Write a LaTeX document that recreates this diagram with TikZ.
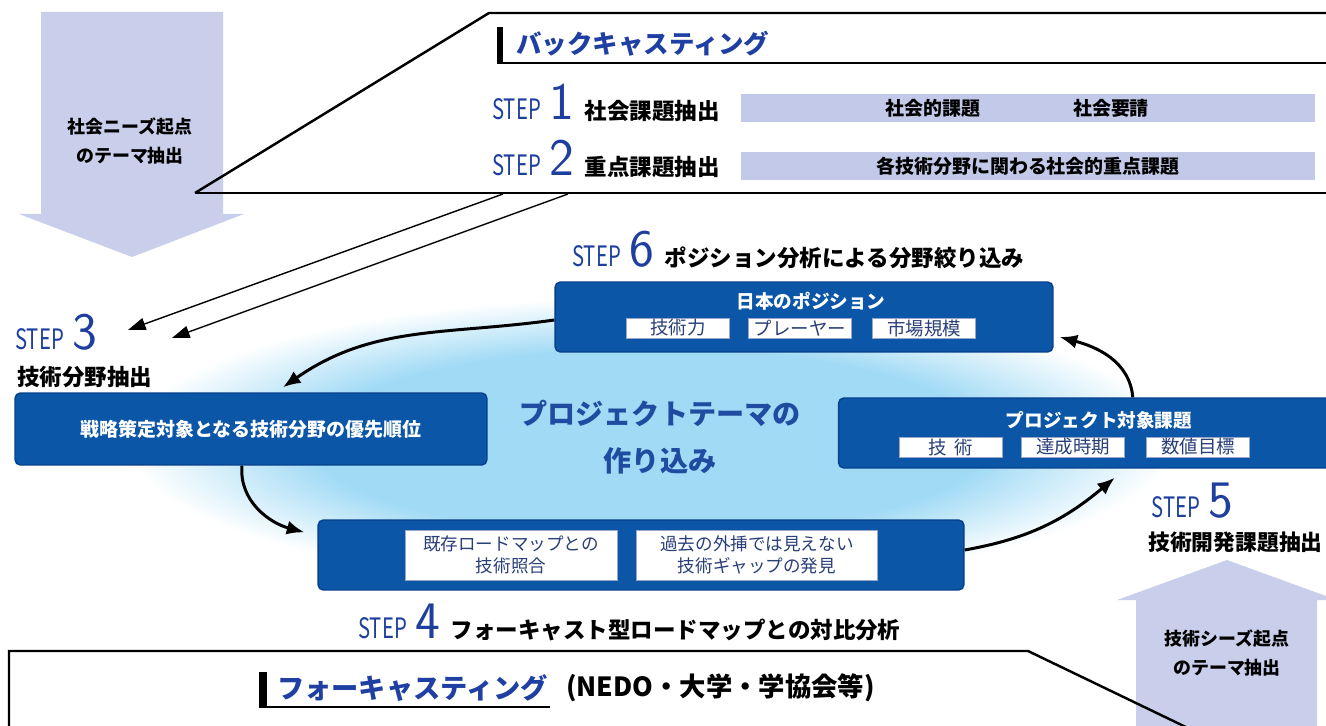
\documentclass[tikz,border=0pt]{standalone}
\usepackage{fontspec}
\setmainfont{Noto Sans CJK JP}
\usetikzlibrary{arrows.meta}
\definecolor{boxblue}{HTML}{0B56A6}
\definecolor{boxedge}{HTML}{063F8C}
\definecolor{stepblue}{HTML}{1E3F9E}
\definecolor{titleblue}{HTML}{1F40A2}
\definecolor{themeblue}{HTML}{1F4BA0}
\definecolor{tagtext}{HTML}{2A3F78}
\definecolor{tagedge}{HTML}{9AA6C8}
\definecolor{arrowlilac}{HTML}{C9CEEA}
\definecolor{barlilac}{HTML}{C3C9E8}
\definecolor{glowblue}{HTML}{A0DAF5}
\pgfdeclareradialshading{glow}{\pgfpoint{0bp}{0bp}}{color(0bp)=(glowblue); color(16bp)=(glowblue); color(25bp)=(white); color(50bp)=(white)}
\newcommand\stepmark[1]{{\mdseries\color{stepblue}\scalebox{.72}[1]{\fontsize{16}{16}\selectfont STEP}\hspace{5pt}{\sffamily\fontsize{30}{30}\selectfont #1}}\hspace{6pt}}
\tikzset{
  >=latex,
  {blue box/.style} ={draw=boxedge, fill=boxblue, line width=.8pt, rounded corners=3pt,
                      inner sep=0, text=white, font=\bfseries\fontsize{10.8}{12}\selectfont},
  {box title/.style} ={inner sep=0, text=white, font=\bfseries\fontsize{10.6}{12}\selectfont},
  {white tag/.style} ={draw=tagedge, fill=white, line width=.5pt, inner sep=0,
                      minimum width=2.06cm, minimum height=.4cm, text=tagtext,
                      font=\fontsize{10.5}{12}\selectfont},
  {road tag/.style} ={white tag, minimum height=1cm, align=center,
                      font=\fontsize{10}{12.5}\selectfont},
  {lilac bar/.style} ={fill=barlilac, inner sep=0, minimum height=.58cm, minimum width=11.48cm},
  {bar text/.style} ={inner sep=0, font=\bfseries\fontsize{10.8}{12}\selectfont},
  {step label/.style} ={anchor=base west, inner sep=0, font=\bfseries\fontsize{12.8}{14}\selectfont},
  {step sub/.style} ={anchor=west, inner sep=0, font=\bfseries\fontsize{12.8}{14}\selectfont},
  {flow arrow/.style} ={-{Latex[length=10pt,width=8pt]}, line width=1.7pt},
  {feed arrow/.style} ={-{Triangle[length=10pt,width=7pt]}, line width=.8pt},
  {frame line/.style} ={line width=1.4pt, line join=miter},
  {theme arrow/.style} ={fill=arrowlilac},
  {theme text/.style} ={align=center, inner sep=0, font=\bfseries\fontsize{10.2}{16}\selectfont},
}

\begin{document}
\begin{tikzpicture}[x=0.02cm,y=-0.02cm]
\useasboundingbox (0,0) rectangle (1326,726);
% glow behind the cycle
\shade[shading=glow] (650,442) ellipse [x radius=10.5cm, y radius=2.9cm];

% big theme arrows
\fill[theme arrow] (41,12) -- (223,12) -- (223,214) -- (244,214) -- (132,257)
      -- (19,214) -- (41,214) -- cycle;
\node[theme text] (needs) at (130,141) {社会ニーズ起点\\のテーマ抽出};
\fill[theme arrow] (1136,740) -- (1136,600) -- (1117,600) -- (1227,560)
      -- (1337,600) -- (1317,600) -- (1317,740) -- cycle;
\node[theme text] (seeds) at (1227,653) {技術シーズ起点\\のテーマ抽出};

% backcasting frame
\draw[frame line] (195,193) -- (489,13) -- (1340,13);
\draw[frame line] (195,193) -- (1340,193);
\fill (497,27) rectangle (503,64);
\draw[line width=1.2pt] (497,63) -- (1340,63);
\node[anchor=west, text=titleblue, font=\bfseries\fontsize{14.5}{16}\selectfont]
      (back title) at (510,44) {バックキャスティング};

\node[lilac bar] (bar1) at (1028,108) {};
\node[bar text] (need a) at (933,108) {社会的課題};
\node[bar text] (need b) at (1111,108) {社会要請};
\node[lilac bar, bar text] (bar2) at (1028,166) {各技術分野に関わる社会的重点課題};

% step labels
\node[step label] (s1) at (492,120) {\stepmark{1}社会課題抽出};
\node[step label] (s2) at (492,176) {\stepmark{2}重点課題抽出};
\node[step label] (s6) at (572,267) {\stepmark{6}ポジション分析による分野絞り込み};
\node[step label] (s3) at (15,350) {\stepmark{3}};
\node[step sub] (s3 text) at (17,377) {技術分野抽出};
\node[step label] (s4) at (358,638) {\stepmark{4}フォーキャスト型ロードマップとの対比分析};
\node[step label] (s5) at (1151,517) {\stepmark{5}};
\node[step sub, font=\bfseries\fontsize{12.4}{14}\selectfont] (s5 text) at (1148,542) {技術開発課題抽出};

\coordinate (back a) at (503,194);
\coordinate (back b) at (568,194);
\coordinate (s3 in a) at (128,330);
\coordinate (s3 in b) at (172,338);
\draw[feed arrow] (back a) -- (s3 in a);
\draw[feed arrow] (back b) -- (s3 in b);

% the four boxes
\node[blue box, minimum width=9.96cm, minimum height=1.4cm] (pos6) at (804,317) {};
\node[box title] (pos6 title) at (811,301) {日本のポジション};
\node[white tag] (tech) at (678,328) {技術力};
\node[white tag] (player) at (800,328) {プレーヤー};
\node[white tag] (market) at (924,328) {市場規模};

\node[blue box, minimum width=9.44cm, minimum height=1.44cm] (strat) at (251,429)
      {戦略策定対象となる技術分野の優先順位};

\node[blue box, minimum width=10.14cm, minimum height=1.4cm] (goal) at (1092,433) {};
\node[box title] (goal title) at (1099,420) {プロジェクト対象課題};
\node[white tag] (gtech) at (951,447) {技\hspace{.4em}術};
\node[white tag] (gtime) at (1073,447) {達成時期};
\node[white tag] (gnum) at (1198,447) {数値目標};

\node[blue box, minimum width=12.92cm, minimum height=1.4cm] (road) at (641,555) {};
\node[road tag, minimum width=4.24cm] (match) at (511,555) {既存ロードマップとの\\技術照合};
\node[road tag, minimum width=4.82cm] (gap) at (757,555) {過去の外挿では見えない\\技術ギャップの発見};

\node[align=center, inner sep=0, text=themeblue, font=\bfseries\fontsize{16}{26.5}\selectfont]
      (theme) at (660,437) {プロジェクトテーマの\\作り込み};

% cycle arrows
\draw[flow arrow] ([yshift=-.06cm]pos6.west) to[out=188,in=35] ([xshift=.64cm,yshift=.1cm]strat.north);
\draw[flow arrow] ([xshift=-.18cm]strat.south) to[out=265,in=165] ([xshift=-.26cm,yshift=-.26cm]road.north west);
\draw[flow arrow] ([yshift=.1cm]road.east) to[out=10,in=220] ([xshift=5.54cm,yshift=-.18cm]goal.south west);
\draw[flow arrow] ([xshift=5.9cm]goal.north west) to[out=95,in=-15] ([xshift=.12cm,yshift=-.4cm]pos6.east);

% forecasting frame
\draw[frame line] (9,740) -- (9,651) -- (1028,651) -- (1192,730);
\fill (259,672) rectangle (267,707);
\draw[line width=1pt] (259,707) -- (550,707);
\node[anchor=west, text=titleblue, font=\bfseries\fontsize{15.5}{17}\selectfont]
      (fore title) at (271,688) {フォーキャスティング};
\node[anchor=west, font=\bfseries\fontsize{15}{17}\selectfont] (fore note) at (560,688) {(NEDO・大学・学協会等)};
\end{tikzpicture}
\end{document}
